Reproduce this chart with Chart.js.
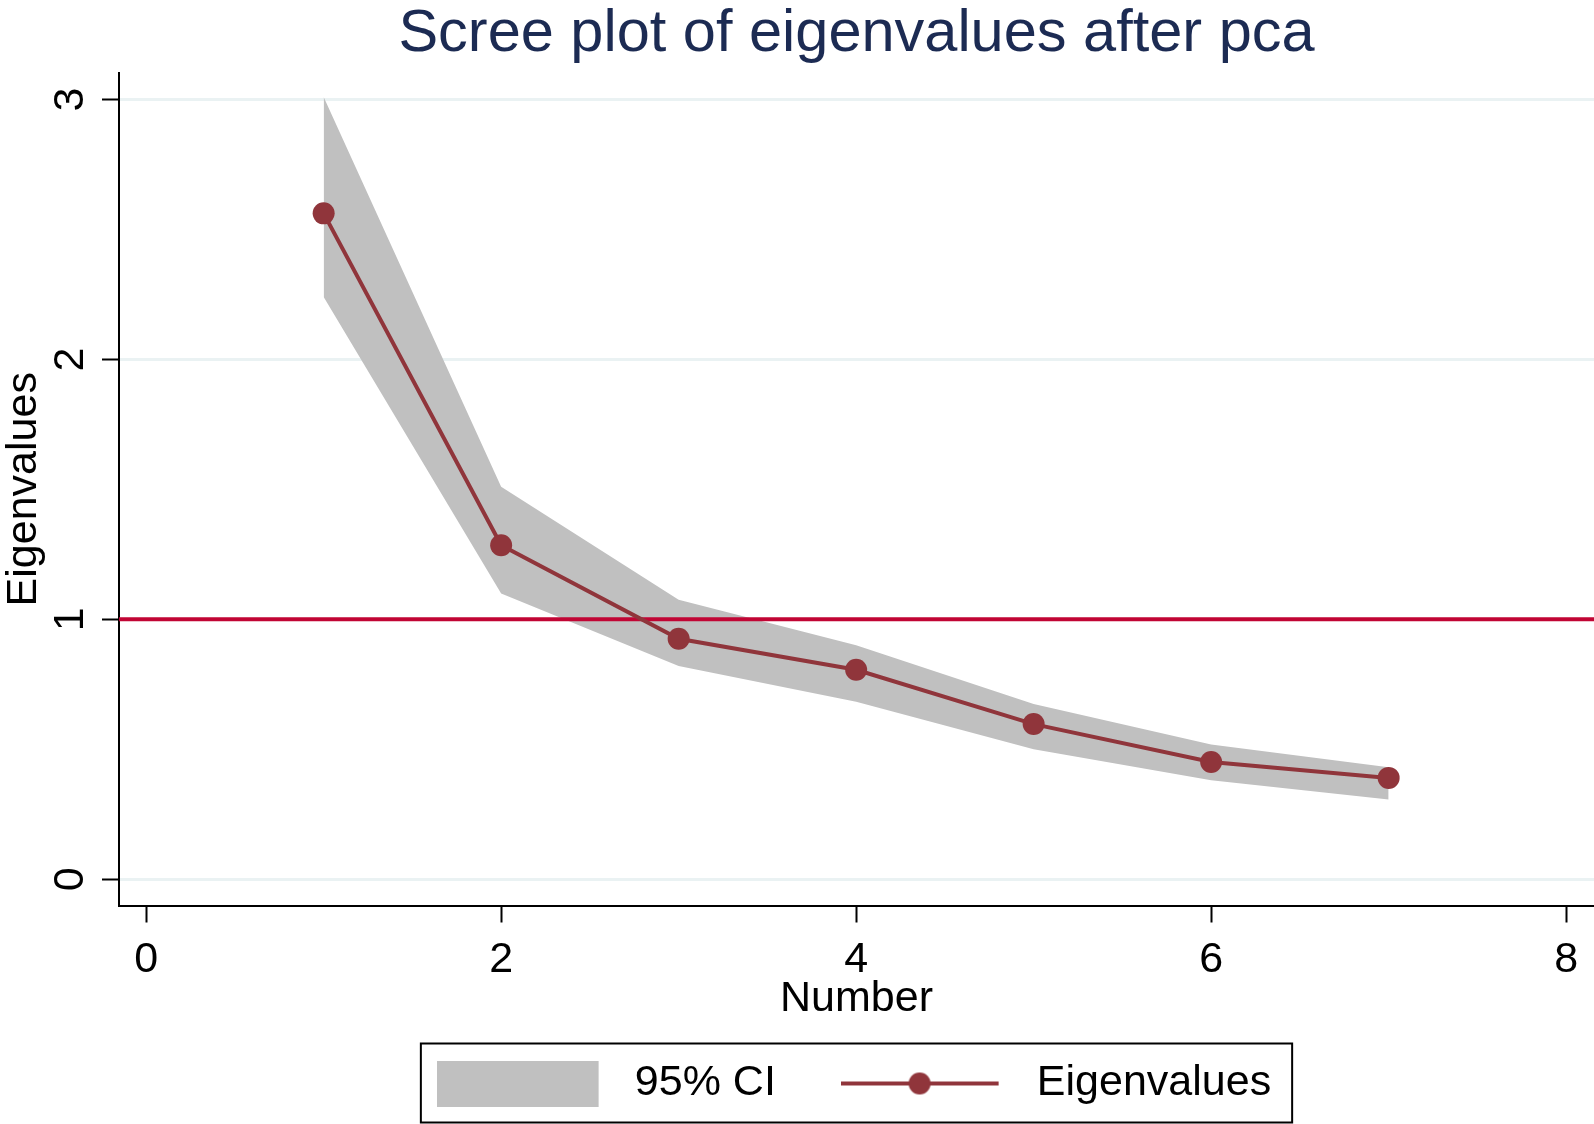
<!DOCTYPE html>
<html>
<head>
<meta charset="utf-8">
<script src="https://cdn.jsdelivr.net/npm/chart.js@4.4.1/dist/chart.umd.min.js"></script>
<style>
html, body { margin: 0; padding: 0; background: #fff; }
canvas { display: block; }
</style>
</head>
<body>
<canvas id="screeChart" width="1594" height="1124"></canvas>
<script>
var componentNumber = [1, 2, 3, 4, 5, 6, 7];
var eigenvalues = [2.562, 1.285, 0.925, 0.806, 0.597, 0.451, 0.390];
var ciUpper = [3.01, 1.51, 1.075, 0.90, 0.674, 0.518, 0.431];
var ciLower = [2.24, 1.099, 0.82, 0.683, 0.50, 0.381, 0.307];
var xTicks = [0, 2, 4, 6, 8];
var yTicks = [0, 1, 2, 3];
var cutoff = 1;
var xRange = [-0.153, 8.157];
var yRange = [-0.101, 3.102];

var eigenColor = '#90353b';
var bandColor = '#c0c0c0';

function points(ys) {
    return componentNumber.map(function (n, i) { return {x: n, y: ys[i]}; });
}

Chart.defaults.font.family = '"Liberation Sans", Arial, Helvetica, sans-serif';
Chart.defaults.color = '#000';

// legend keys, drawn into small canvases
function swatchKey() {
    var c = document.createElement('canvas');
    c.width = 182; c.height = 46;
    var g = c.getContext('2d');
    g.fillStyle = bandColor;
    g.fillRect(0, 0, 162, 46);
    return c;
}
function lineKey() {
    var c = document.createElement('canvas');
    c.width = 178; c.height = 24;
    var g = c.getContext('2d');
    g.strokeStyle = eigenColor;
    g.lineWidth = 4;
    g.beginPath(); g.moveTo(0, 12); g.lineTo(158, 12); g.stroke();
    g.fillStyle = eigenColor;
    g.beginPath(); g.arc(79, 12, 11, 0, Math.PI * 2); g.fill();
    return c;
}

var legendFrame = {
    id: 'legendFrame',
    afterDraw: function (chart) {
        var boxes = chart.legend.legendHitBoxes;
        if (!boxes || !boxes.length) return;
        var first = boxes[0], last = boxes[boxes.length - 1];
        var cy = first.top + first.height / 2;
        var left = first.left - 21;
        var right = last.left + last.width + 21;
        var c = chart.ctx;
        c.save();
        c.strokeStyle = '#000';
        c.lineWidth = 2;
        c.strokeRect(left, cy - 40, right - left, 79);
        c.restore();
    }
};

var ctx = document.getElementById('screeChart').getContext('2d');

var myChart = new Chart(ctx, {
    type: 'line',
    data: {
        datasets: [{
            label: '95% CI',
            data: points(ciUpper),
            fill: '+1',
            backgroundColor: bandColor,
            borderColor: 'rgba(0,0,0,0)',
            borderWidth: 0,
            pointRadius: 0,
            order: 3
        }, {
            label: 'CI lower',
            data: points(ciLower),
            fill: false,
            borderColor: 'rgba(0,0,0,0)',
            borderWidth: 0,
            pointRadius: 0,
            order: 3
        }, {
            label: 'cutoff',
            data: [{x: xRange[0], y: cutoff}, {x: xRange[1], y: cutoff}],
            borderColor: '#c10534',
            borderWidth: 4,
            pointRadius: 0,
            fill: false,
            order: 2
        }, {
            label: 'Eigenvalues',
            data: points(eigenvalues),
            borderColor: eigenColor,
            backgroundColor: eigenColor,
            borderWidth: 4,
            pointRadius: 11,
            pointBorderWidth: 0,
            fill: false,
            order: 1
        }]
    },
    options: {
        responsive: false,
        animation: false,
        devicePixelRatio: 1,
        events: [],
        layout: { padding: { bottom: 9 }, autoPadding: false },
        plugins: {
            title: {
                display: true,
                text: 'Scree plot of eigenvalues after pca',
                color: '#1c2b53',
                font: { size: 59.5, weight: 'normal', lineHeight: 1 },
                padding: { top: 4.5, bottom: 9 },
                fullSize: false
            },
            legend: {
                position: 'bottom',
                fullSize: false,
                labels: {
                    usePointStyle: true,
                    pointStyleWidth: 171.5,
                    padding: 68,
                    color: '#000',
                    font: { size: 43 },
                    generateLabels: function () {
                        return [
                            { text: '95% CI', pointStyle: swatchKey(), fillStyle: bandColor,
                              strokeStyle: 'rgba(0,0,0,0)', lineWidth: 0, hidden: false,
                              datasetIndex: 0, fontColor: '#000' },
                            { text: 'Eigenvalues', pointStyle: lineKey(), fillStyle: eigenColor,
                              strokeStyle: 'rgba(0,0,0,0)', lineWidth: 0, hidden: false,
                              datasetIndex: 3, fontColor: '#000' }
                        ];
                    }
                }
            },
            tooltip: { enabled: false }
        },
        scales: {
            x: {
                type: 'linear',
                min: xRange[0],
                max: xRange[1],
                afterBuildTicks: function (scale) {
                    scale.ticks = xTicks.map(function (v) { return {value: v}; });
                },
                afterFit: function (scale) {
                    scale.height = 88.5;
                    scale.paddingLeft = 0;
                    scale.paddingRight = 0;
                },
                ticks: { padding: 12, color: '#000', font: { size: 43 } },
                grid: { drawOnChartArea: false, tickLength: 17, tickColor: '#000', tickWidth: 2 },
                border: { color: '#000', width: 2 },
                title: {
                    display: true, text: 'Number', color: '#000',
                    font: { size: 43, lineHeight: 1 },
                    padding: { top: -27, bottom: -27 }
                }
            },
            y: {
                type: 'linear',
                min: yRange[0],
                max: yRange[1],
                afterBuildTicks: function (scale) {
                    scale.ticks = yTicks.map(function (v) { return {value: v}; });
                },
                afterFit: function (scale) {
                    scale.width = 119;
                    scale.paddingTop = 0;
                    scale.paddingBottom = 0;
                },
                ticks: { padding: 19, minRotation: 90, maxRotation: 90, crossAlign: 'center',
                         color: '#000', font: { size: 43 } },
                grid: { color: '#eaf2f3', lineWidth: 3, tickLength: 17, tickColor: '#000', tickWidth: 2 },
                border: { color: '#000', width: 2 },
                title: {
                    display: true, text: 'Eigenvalues', color: '#000',
                    font: { size: 43, lineHeight: 1 },
                    padding: { top: 2.5, bottom: 2.5 }
                }
            }
        }
    },
    plugins: [legendFrame]
});
</script>
</body>
</html>
